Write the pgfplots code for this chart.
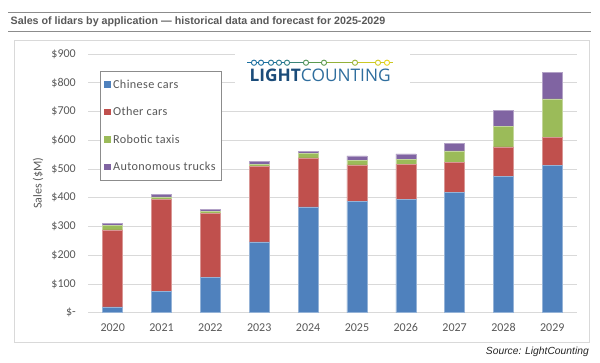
\documentclass[border=0pt]{standalone}
\usepackage{fontspec}
\usepackage{graphicx}
\usepackage{pgfplots}
\pgfplotsset{compat=1.18}
\setmainfont{Carlito}
\newfontfamily\arialfont{Liberation Sans}
\newfontfamily\logofont{Open Sans}
\newfontfamily\legfont[LetterSpace=3]{Carlito}
\definecolor{cblue}{HTML}{4F81BD}
\definecolor{cred}{HTML}{C0504D}
\definecolor{cgreen}{HTML}{9BBB59}
\definecolor{cpurple}{HTML}{8064A2}
\definecolor{tickgray}{HTML}{595959}
\definecolor{gridgray}{HTML}{D9D9D9}
\definecolor{legendgray}{HTML}{8C8C8C}
\definecolor{titlegray}{HTML}{595959}
\definecolor{linegray}{HTML}{8C8C8C}
\definecolor{lteal}{HTML}{1B6FA0}
\definecolor{lgreen}{HTML}{5C9A4E}
\definecolor{lyellow}{HTML}{E8D51A}
\definecolor{lnavy}{HTML}{1B4C7A}
\definecolor{lblue}{HTML}{2F6E9E}
\pgfplotsset{sqlegend/.style={legend image code/.code={\fill[##1,draw=none] (0pt,-3.4pt) rectangle (6.7pt,3.3pt);}}}
\begin{document}
\begin{tikzpicture}
\fill[white] (0pt,0pt) rectangle (600pt,-362pt);
\draw[linegray, line width=0.9pt] (8pt,-12.3pt) -- (591pt,-12.3pt);
\draw[linegray, line width=0.9pt] (8pt,-31.3pt) -- (591pt,-31.3pt);
\node[anchor=west, inner sep=0pt, text=titlegray, font=\arialfont\bfseries\fontsize{10.7}{12}\selectfont] at (10.5pt,-21.8pt) {Sales of lidars by application — historical data and forecast for 2025-2029};
\draw[gridgray, line width=0.8pt] (14pt,-40.7pt) rectangle (589pt,-342.7pt);
\begin{axis}[
  at={(88.3pt,-312.7pt)}, anchor=south west,
  scale only axis, width=488.4pt, height=258.7pt,
  ybar stacked, bar width=20pt,
  xmin=-0.5, xmax=9.5, ymin=0, ymax=900,
  xtick={0,...,9},
  xticklabels={2020,2021,2022,2023,2024,2025,2026,2027,2028,2029},
  ytick={0,100,...,900},
  yticklabels={\$-,\$100,\$200,\$300,\$400,\$500,\$600,\$700,\$800,\$900},
  axis line style={draw=none},
  major tick length=0pt,
  ymajorgrids, grid style={gridgray, line width=0.8pt},
  ticklabel style={font=\fontsize{12}{14}\selectfont, text=tickgray},
  xticklabel style={yshift=-7pt},
  yticklabel style={xshift=-9pt},
  ylabel={Sales (\$M)},
  every axis y label/.style={at={(axis description cs:0,0.5)}, xshift=-50.3pt, rotate=90, anchor=center, font=\fontsize{12}{14}\selectfont, text=tickgray},
  legend style={at={(0.024,0.9355)}, anchor=north west, draw=legendgray, line width=0.8pt, fill=white,
    font=\legfont\fontsize{12.2}{14}\selectfont, text=tickgray, row sep=13.5pt, inner xsep=4pt, inner ysep=6.5pt},
  legend cell align=left,
]
\addplot[fill=cblue, draw=cblue!60!white, line width=0.5pt, sqlegend] coordinates {(0,20) (1,75) (2,124) (3,246) (4,368) (5,387) (6,394) (7,418) (8,473) (9,512)};
\addplot[fill=cred, draw=cred!60!white, line width=0.5pt, sqlegend] coordinates {(0,268) (1,320) (2,221) (3,264) (4,171) (5,127) (6,122) (7,106) (8,104) (9,99)};
\addplot[fill=cgreen, draw=cgreen!60!white, line width=0.5pt, sqlegend] coordinates {(0,15) (1,8) (2,8) (3,7) (4,15) (5,17) (6,18) (7,39) (8,72) (9,133)};
\addplot[fill=cpurple, draw=cpurple!60!white, line width=0.5pt, sqlegend] coordinates {(0,8) (1,9) (2,7) (3,9) (4,8) (5,15) (6,19) (7,27) (8,55) (9,93)};
\legend{Chinese cars, Other cars, Robotic taxis, Autonomous trucks}
\end{axis}
% logo
\fill[white] (235pt,-44pt) rectangle (410pt,-98pt);
\draw[lteal, line width=0.9pt] (247pt,-62.7pt) -- (287pt,-62.7pt);
\draw[lteal!50!lgreen, line width=0.9pt] (287pt,-62.7pt) -- (306pt,-62.7pt);
\draw[lgreen, line width=0.9pt] (306pt,-62.7pt) -- (324pt,-62.7pt);
\draw[lyellow!40!lgreen, line width=0.9pt] (324pt,-62.7pt) -- (355pt,-62.7pt);
\draw[lyellow!80!lgreen, line width=0.9pt] (355pt,-62.7pt) -- (393pt,-62.7pt);
\foreach \xx/\cc in {254/lteal, 261/lteal, 271/lteal!90!lgreen, 279/lteal!80!lgreen, 287/lteal!65!lgreen, 306/lgreen!85!lteal, 324/lgreen, 355/lyellow!45!lgreen, 378/lyellow!85!lgreen, 387/lyellow}
  \draw[\cc, fill=white, line width=0.9pt] (\xx pt,-62.7pt) circle (2.6pt);
\node[anchor=west, inner sep=0pt] at (249.5pt,-75.5pt) {\resizebox{141pt}{!}{\logofont\fontsize{17}{17}\selectfont\textcolor{lnavy}{\bfseries LIGHT}\textcolor{lblue}{COUNTING}}};
\node[anchor=east, inner sep=0pt, text=black!85, font=\arialfont\itshape\fontsize{10.3}{12}\selectfont] at (589pt,-351.7pt) {Source: LightCounting};
\end{tikzpicture}
\end{document}
